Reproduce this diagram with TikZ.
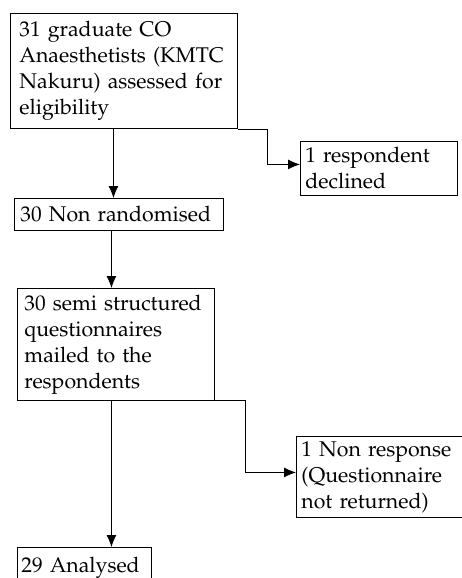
\documentclass[tikz,border=0pt]{standalone}
\usepackage[T1]{fontenc}
\usepackage{mathpazo}
\usetikzlibrary{arrows.meta, positioning}

\begin{document}
\begin{tikzpicture}[x=1pt, y=-1pt]

\tikzset{stage/.style = {draw, line width=0.9pt, anchor=north west, align=left,
  font=\fontsize{21.3}{26}\selectfont, inner ysep=0pt}}
\tikzset{edge/.style = {->, line width=0.8pt, > = {Latex[length=12pt, width=10pt]}}}
\useasboundingbox (0,0) rectangle (461,578);
% boxes
\node[stage, minimum width=227pt, minimum height=115pt, text width=209pt, inner xsep=9pt] (assessed) at (10,13) {31 graduate CO\\Anaesthetists (KMTC\\Nakuru) assessed for\\eligibility};
\node[stage, minimum width=157pt, minimum height=54pt, text width=147pt, inner xsep=5pt] (declined) at (300,141) {1 respondent\\declined};
\node[stage, minimum width=209pt, minimum height=32pt, text width=197pt, inner xsep=6pt] (nonrand) at (14,198) {30 Non randomised};
\node[stage, minimum width=197pt, minimum height=112pt, text width=183pt, inner xsep=7pt] (mailed) at (17,288) {30 semi structured\\questionnaires\\mailed to the\\respondents};
\node[stage, minimum width=175pt, minimum height=81pt, text width=165pt, inner xsep=5pt] (noresp) at (296,436) {1 Non response\\(Questionnaire\\not returned)};
\node[stage, minimum width=134pt, minimum height=40pt, text width=126pt, inner xsep=4pt] (analysed) at (17,547) {29 Analysed};
%edges
\draw [edge] ([xshift=-10.5pt]assessed.south) -- ([xshift=-10.5pt]assessed.south |- nonrand.north);
\draw [edge] (assessed.south east) -- ++(29,0) |- ([yshift=4pt]declined.west);
\draw [edge] ([xshift=-7.5pt]nonrand.south) -- ([xshift=-7.5pt]nonrand.south |- mailed.north);
\draw [edge] ([xshift=-4.5pt]mailed.south) -- ([xshift=-4.5pt]mailed.south |- analysed.north);
\draw [edge] ([yshift=1pt]mailed.south east) -- ++(30,0) |- ([yshift=4.5pt]noresp.west);
\end{tikzpicture}
\end{document}
